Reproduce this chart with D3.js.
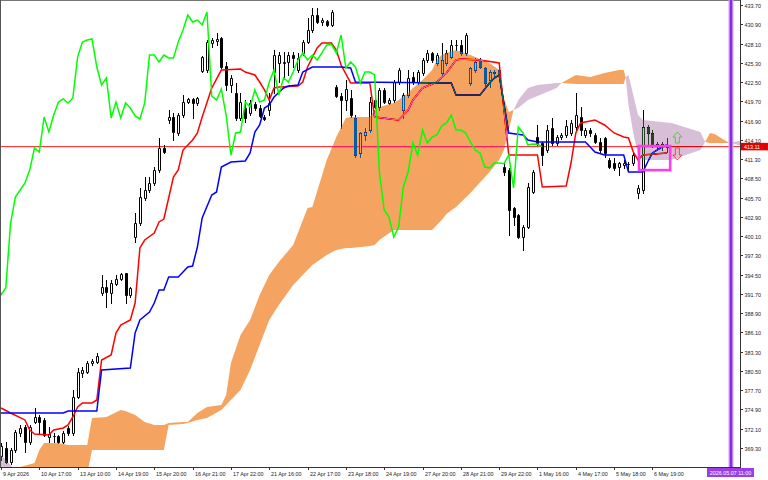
<!DOCTYPE html>
<html><head><meta charset="utf-8">
<script src="https://cdn.jsdelivr.net/npm/d3@7"></script>
<style>html,body{margin:0;padding:0;background:#fff;overflow:hidden}</style>
</head><body>
<svg id="chart" width="768" height="480"></svg>
<script>
// ---------- DATA ----------
const openP = [368.14,369.31,367.27,369.02,371.48,372.36,370.18,373.08,373.81,373.38,
370.90,371.05,371.05,370.18,372.21,371.48,376.72,380.21,380.35,381.66,
381.81,391.84,392.71,391.84,393.14,393.87,394.74,391.55,399.98,402.01,
405.65,406.81,407.83,409.72,412.92,416.99,417.42,415.10,417.71,419.60,
420.04,419.46,424.11,424.25,428.18,428.47,428.91,424.84,422.07,420.91,
417.28,418.73,418.00,419.31,418.73,417.42,418.44,423.96,425.27,425.27,
425.42,426.43,424.25,426.73,428.32,430.07,432.25,431.23,431.38,430.80,
421.78,420.47,419.89,420.18,417.28,412.19,414.81,415.53,419.89,418.88,
421.35,419.46,419.89,422.51,418.44,420.62,423.24,422.51,423.82,425.71,
426.73,425.27,423.82,425.27,426.14,427.89,427.89,426.73,422.37,424.25,
425.71,424.55,422.80,423.82,424.25,410.15,409.72,404.19,403.18,399.98,
401.43,406.52,414.51,413.64,412.62,415.82,413.64,414.51,414.81,415.10,
415.97,417.42,414.81,415.53,414.81,413.79,414.37,411.17,410.73,410.15,
410.44,410.59,410.73,406.37,406.81,415.97,415.10,413.21,413.50,413.35];
const highP = [370.03,370.18,369.31,371.92,372.65,372.65,372.65,375.12,374.10,373.66,
372.36,371.48,371.19,371.77,372.50,377.74,380.93,381.08,381.95,382.24,
383.12,394.45,393.73,393.73,394.45,394.74,394.80,392.71,403.47,407.10,
408.70,408.70,410.15,414.37,413.35,418.44,418.00,418.00,420.62,420.18,
420.18,420.33,426.29,428.62,428.91,429.63,429.05,425.42,423.53,422.37,
420.91,419.89,419.89,419.60,419.17,417.71,420.91,427.16,426.87,426.87,
426.87,426.87,426.73,428.62,431.81,433.27,433.27,431.81,431.52,432.98,
422.07,420.91,422.80,421.35,417.71,415.24,415.82,420.33,421.64,421.64,
421.64,420.18,422.80,424.55,420.91,424.25,423.96,424.25,426.00,427.16,
426.87,426.73,428.18,427.16,428.62,428.62,428.62,429.63,424.69,426.00,
426.00,424.69,424.25,424.25,424.55,410.88,410.01,404.34,403.32,401.72,
407.83,409.72,416.26,413.79,416.26,417.28,414.81,415.10,416.99,416.99,
420.91,418.88,415.82,415.82,415.10,414.37,414.51,411.46,411.46,410.88,
411.17,410.88,412.33,407.54,418.44,416.26,415.53,413.79,413.79,414.37];
const lowP = [367.56,367.12,366.98,368.72,371.05,368.72,369.89,372.94,371.48,371.05,
370.18,370.18,370.03,370.03,371.19,371.19,376.57,379.63,380.21,381.37,
381.66,391.55,389.80,390.38,393.00,393.73,390.38,391.26,399.25,401.72,
405.36,406.52,407.54,409.43,412.19,416.55,414.08,414.81,417.42,419.46,
417.28,419.17,423.96,423.96,427.60,427.89,424.55,421.35,421.06,416.99,
416.99,416.70,417.71,418.44,417.42,416.99,417.71,420.91,422.51,423.24,
423.53,424.69,423.96,426.43,428.18,429.78,431.09,430.80,430.65,430.65,
420.33,415.82,418.44,417.42,411.61,411.61,414.08,415.24,418.73,418.44,
419.46,419.31,419.60,422.22,417.28,420.33,422.22,422.22,423.53,425.42,
425.42,424.98,423.53,424.98,426.00,427.16,426.43,426.43,422.07,423.96,
424.55,421.78,421.78,423.38,423.24,408.99,400.27,401.72,399.83,398.09,
401.29,406.37,413.35,410.44,412.33,413.35,413.35,414.22,414.51,414.81,
415.53,414.81,414.51,414.66,413.64,412.33,411.61,410.01,409.72,408.99,
410.01,409.72,410.44,405.65,406.37,413.35,413.06,412.62,412.62,412.33];
const closeP = [369.60,367.27,369.02,371.63,372.21,370.18,372.36,373.81,373.08,371.19,
371.34,371.10,370.18,371.48,371.48,376.72,380.35,380.64,381.66,381.95,
382.68,392.71,391.98,393.29,393.87,394.60,391.55,392.56,402.01,405.79,
406.81,407.83,409.72,412.92,412.33,417.42,415.24,417.71,419.60,420.04,
419.46,420.18,426.14,428.32,428.62,428.76,424.69,422.07,423.09,417.28,
419.60,417.28,419.46,418.73,417.57,417.13,419.46,426.43,426.43,425.42,
426.43,426.00,426.00,428.32,430.07,432.25,431.23,431.52,430.80,432.69,
420.47,419.89,421.49,417.71,411.90,415.10,415.24,419.60,418.88,421.35,
419.60,419.89,422.51,424.25,420.62,423.09,422.51,423.96,425.71,426.73,
425.71,426.43,425.71,426.73,427.89,427.95,426.73,429.34,424.55,425.42,
424.69,422.37,423.96,423.96,423.53,409.43,403.90,402.88,399.98,401.43,
407.25,409.43,413.64,411.90,415.53,413.64,414.51,414.81,416.11,416.55,
417.71,415.53,415.53,415.10,413.79,412.62,412.19,410.15,410.01,410.73,
410.73,410.64,411.90,407.10,415.97,415.10,413.35,413.50,413.45,413.11];

// Tenkan-sen (red) read as [bar, price]
const tenkan = [[0,375.12],[2,374.39],[5,373.38],[6,371.92],[7,371.34],[10,371.19],[11,371.92],[13,372.21],[14,372.65],[15,373.81],[16,375.27],[17,375.85],[19,375.85],[20,376.28],[21,382.09],[23,382.82],[24,386.02],[25,387.18],[27,387.91],[28,390.38],[29,398.38],[30,399.54],[32,400.56],[33,402.16],[34,402.59],[36,408.70],[37,409.72],[38,412.62],[40,414.08],[41,415.10],[42,417.42],[44,421.64],[46,424.25],[50,424.40],[51,423.96],[53,423.53],[54,422.51],[55,421.35],[56,419.89],[57,421.64],[58,421.78],[62,421.93],[63,422.51],[64,424.69],[66,427.45],[67,428.18],[69,428.18],[70,427.16],[71,424.98],[73,422.37],[77,422.37],[78,417.42],[83,416.99],[85,418.44],[86,419.89],[88,421.64],[91,422.51],[93,423.82],[95,425.71],[96,425.85],[100,425.71],[104,425.27],[106,411.90],[112,411.90],[113,407.25],[118,407.39],[119,410.73],[120,415.10],[121,416.55],[124,416.99],[126,416.26],[128,415.10],[130,414.51],[131,414.37],[132,412.33],[133,411.17],[134,411.90],[139,412.19]];
// Kijun-sen (blue)
const kijun = [[0,374.39],[13,374.39],[14,374.68],[20,374.68],[21,380.64],[27,380.93],[28,386.02],[29,387.91],[31,389.07],[32,390.38],[33,392.27],[34,392.27],[35,394.16],[37,394.16],[38,394.89],[39,395.62],[40,395.76],[41,398.52],[42,402.74],[44,406.08],[45,406.52],[46,410.15],[48,410.88],[51,411.03],[52,412.19],[53,415.24],[54,416.26],[55,418.73],[56,419.17],[57,420.33],[59,421.64],[60,421.93],[62,422.07],[63,423.96],[65,424.69],[71,424.69],[73,424.55],[74,422.51],[94,422.37],[95,420.62],[100,420.62],[102,422.37],[103,423.09],[104,423.53],[106,415.10],[109,414.81],[110,414.08],[112,413.79],[122,413.79],[123,413.06],[124,412.33],[126,411.90],[130,411.90],[131,409.43],[134,409.43],[135,410.88],[136,412.19],[138,413.06],[139,413.35]];
// Chikou span = close plotted 26 bars back
const chikouShift = 26;
// Kumo (cloud): bar index, Senkou span A, Senkou span B
const cloudIdx = [0,2,3,4,7,8,9,12,14,18,19,22,25,26,28,30,32,34,35,38,39,41,43,46,47,48,50,52,54,56,58,61,64,65,68,70,72,73,77,78,79,82,83,85,86,88,90,91,92,93,95,98,102,104,105,106,107,108,110,112,116,117,120,123,126,129,130,130.4,131,132,133,134,140,146,147,148,149,151,152,154,156];
const spanA = [365.38,366.10,366.10,366.54,367.12,369.02,370.03,370.03,369.74,369.74,373.66,373.81,374.83,374.68,374.10,373.08,372.65,372.65,372.94,373.08,373.08,374.39,375.27,375.56,377.01,381.66,385.73,387.91,391.55,394.45,396.34,398.81,404.19,404.34,411.17,414.51,417.28,417.42,417.42,418.44,418.88,419.46,419.89,420.91,421.64,422.80,424.25,425.71,426.43,426.73,427.16,426.43,425.27,424.25,420.18,418.15,418.44,418.73,419.89,420.47,421.64,422.37,423.53,423.24,423.82,424.25,424.25,423.20,419.17,415.10,411.90,411.17,411.17,412.62,413.79,415.10,414.95,414.08,413.64,413.35,413.35];
const spanB = [368.29,366.83,366.10,365.53,365.53,365.53,365.53,365.53,365.53,365.53,369.02,369.02,369.02,369.02,369.02,369.02,369.02,369.02,372.65,372.79,372.94,373.38,373.66,374.83,375.56,376.28,377.74,380.64,384.28,387.91,390.09,393.00,395.18,395.91,397.36,398.09,398.38,398.38,398.67,398.81,399.54,401.00,401.00,401.00,401.00,401.00,401.00,401.72,402.45,403.32,404.34,406.37,409.43,411.17,412.62,415.53,418.44,419.89,421.64,422.07,422.37,422.37,422.22,422.22,422.22,422.22,422.22,423.20,423.53,420.62,417.71,416.99,416.55,415.24,413.79,413.64,413.64,413.64,413.64,413.93,413.93];

const yTicks = [433.70,430.90,428.10,425.30,422.50,419.70,416.90,414.10,411.30,408.50,405.70,402.90,400.10,397.30,394.50,391.70,388.90,386.10,383.30,380.50,377.70,374.90,372.10,369.30];
const xLabels = ["9 Apr 2026","10 Apr 17:00","13 Apr 10:00","14 Apr 19:00","15 Apr 20:00","16 Apr 21:00","17 Apr 22:00","21 Apr 16:00","22 Apr 17:00","23 Apr 18:00","24 Apr 19:00","27 Apr 20:00","28 Apr 21:00","29 Apr 22:00","1 May 16:00","4 May 17:00","5 May 18:00","6 May 19:00"];
const xLabelStep = 8;
const lastPrice = 413.11;
const vlineBar = 152.4, vlineLabel = "2026.05.07 11:00";
const boxAnn = {from:133.2, to:139.7, top:413.2, bottom:409.7};
const upArrow = {bar:141.2, top:415.24, bottom:413.64};
const downArrow = {bar:141.2, top:412.92, bottom:411.17};

// ---------- CHART ----------
const svg = d3.select('#chart');
const PR = 740, PB = 467;
const x = d3.scaleLinear().domain([0,154.28]).range([1,PR]);
const y = d3.scaleLinear().domain([366.54,434.43]).range([PB,0]);
const font = "'Liberation Sans', Arial, sans-serif";

svg.append('rect').attr('width',768).attr('height',480).attr('fill','#fff');
svg.append('defs').append('clipPath').attr('id','plot').append('rect')
  .attr('x',0).attr('y',0).attr('width',PR).attr('height',PB);
const g = svg.append('g').attr('clip-path','url(#plot)');
g.append('rect').attr('width',PR).attr('height',PB).attr('fill','#fff');

// last price line
g.append('line').attr('x1',0).attr('x2',PR)
  .attr('y1',y(lastPrice)).attr('y2',y(lastPrice))
  .attr('stroke','#ff1a1a').attr('stroke-width',1);

// candles
const bars = openP.map((o,i)=>({i,o,h:highP[i],l:lowP[i],c:closeP[i]}));
const cg = g.append('g');
cg.selectAll('line').data(bars).join('line')
  .attr('x1',d=>Math.round(x(d.i))+0.5).attr('x2',d=>Math.round(x(d.i))+0.5)
  .attr('y1',d=>Math.round(y(d.h))).attr('y2',d=>Math.round(y(d.l))+1)
  .attr('stroke','#000').attr('stroke-width',1);
cg.selectAll('path').data(bars).join('path')
  .attr('d',d=>{
    const px=Math.round(x(d.i))-0.5;
    const t=Math.round(y(Math.max(d.o,d.c)))+0.5, b=Math.round(y(Math.min(d.o,d.c)))+0.5;
    return `M${px},${t}H${px+2}V${b}H${px}Z`;
  })
  .attr('fill',d=>d.c>=d.o?'#fff':'#000').attr('stroke','#000').attr('stroke-width',1);

const line = d3.line().x(d=>x(d[0])).y(d=>y(d[1]));
g.append('path').attr('d',line(tenkan)).attr('fill','none').attr('stroke','#ff0000').attr('stroke-width',1.5);
g.append('path').attr('d',line(kijun)).attr('fill','none').attr('stroke','#0000ff').attr('stroke-width',1.5);

// cloud (XOR-like rendering as in the terminal)
const cloud = cloudIdx.map((b,k)=>({b,a:spanA[k],s:spanB[k]}));
const upArea = d3.area().x(d=>x(d.b)).y0(d=>y(d.s)).y1(d=>y(Math.max(d.a,d.s)));
const dnArea = d3.area().x(d=>x(d.b)).y0(d=>y(d.a)).y1(d=>y(Math.max(d.a,d.s)));
g.append('path').attr('d',upArea(cloud)).attr('fill','rgb(11,91,159)').style('mix-blend-mode','difference');
g.append('path').attr('d',dnArea(cloud)).attr('fill','rgb(39,64,39)').style('mix-blend-mode','difference');

// chikou
const chikou = closeP.map((c,i)=>[i-chikouShift,c]);
g.append('path').attr('d',line(chikou)).attr('fill','none').attr('stroke','#00ff00').attr('stroke-width',1.5);

// frame & axes
svg.append('line').attr('x1',0).attr('x2',PR).attr('y1',0.5).attr('y2',0.5).attr('stroke','#777');
svg.append('line').attr('x1',0.5).attr('x2',0.5).attr('y1',0).attr('y2',PB).attr('stroke','#555');
svg.append('line').attr('x1',0).attr('x2',PR+1).attr('y1',PB+0.5).attr('y2',PB+0.5).attr('stroke','#333');
svg.append('line').attr('x1',PR+0.5).attr('x2',PR+0.5).attr('y1',0).attr('y2',PB+1).attr('stroke','#333');

const ya = svg.append('g');
yTicks.forEach(v=>{
  const yy=Math.round(y(v))+0.5;
  ya.append('line').attr('x1',PR).attr('x2',PR+3).attr('y1',yy).attr('y2',yy).attr('stroke','#333');
  ya.append('text').attr('x',PR+4.5).attr('y',yy+2).text(v.toFixed(2))
    .attr('font-family',font).attr('font-size',5.4).attr('fill','#222');
});
const xa = svg.append('g');
xLabels.forEach((s,k)=>{
  const xx=Math.round(x(k*xLabelStep))+0.5;
  xa.append('line').attr('x1',xx).attr('x2',xx).attr('y1',PB).attr('y2',PB+3).attr('stroke','#333');
  xa.append('text').attr('x',xx+1.5).attr('y',475.5).text(s)
    .attr('font-family',font).attr('font-size',5.4).attr('fill','#222');
});

// vertical line (object)
const vx = x(vlineBar);
svg.append('line').attr('x1',vx).attr('x2',vx).attr('y1',0).attr('y2',PB).attr('stroke','#c9a3f5').attr('stroke-width',5);
svg.append('line').attr('x1',vx).attr('x2',vx).attr('y1',0).attr('y2',PB).attr('stroke','#8a2be2').attr('stroke-width',2.5);
svg.append('rect').attr('x',vx-24).attr('y',468).attr('width',47).attr('height',9).attr('fill','#9b3ee8');
svg.append('text').attr('x',vx-0.5).attr('y',475).attr('text-anchor','middle').text(vlineLabel)
  .attr('font-family',font).attr('font-size',5.4).attr('fill','#fff');

// last price label
const ly = y(lastPrice);
svg.append('rect').attr('x',PR+1).attr('y',ly-3.8).attr('width',27).attr('height',7.5).attr('fill','#e00000');
svg.append('text').attr('x',PR+4).attr('y',ly+2).text(lastPrice.toFixed(2))
  .attr('font-family',font).attr('font-size',5.4).attr('fill','#fff');

// annotation box
svg.append('rect').attr('x',x(boxAnn.from)).attr('y',y(boxAnn.top))
  .attr('width',x(boxAnn.to)-x(boxAnn.from)).attr('height',y(boxAnn.bottom)-y(boxAnn.top))
  .attr('fill','none').attr('stroke','#ff3ce6').attr('stroke-width',2.6);

function arrow(a, up){
  const cx=x(a.bar), t=y(a.top), b=y(a.bottom);
  if(up) return `M${cx},${t}L${cx+4.5},${t+5}L${cx+2},${t+5}L${cx+2},${b}L${cx-2},${b}L${cx-2},${t+5}L${cx-4.5},${t+5}Z`;
  return `M${cx},${b}L${cx+4.5},${b-5}L${cx+2},${b-5}L${cx+2},${t}L${cx-2},${t}L${cx-2},${b-5}L${cx-4.5},${b-5}Z`;
}
svg.append('path').attr('d',arrow(upArrow,true)).attr('fill','none').attr('stroke','#55cc3a').attr('stroke-width',1);
svg.append('path').attr('d',arrow(downArrow,false)).attr('fill','none').attr('stroke','#ff4040').attr('stroke-width',1);
</script>
</body></html>
